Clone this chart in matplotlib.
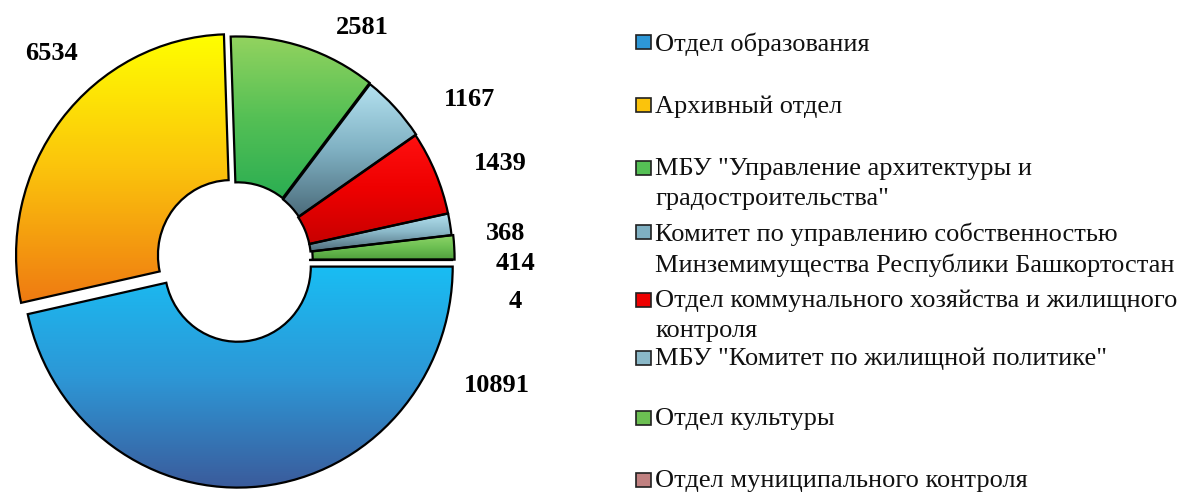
import numpy as np
import matplotlib
matplotlib.use("Agg")
import matplotlib.pyplot as plt
from matplotlib.colors import LinearSegmentedColormap
from matplotlib.patches import Rectangle

W, H = 1189, 493

departments = [
    'Отдел образования',
    'Архивный отдел',
    'МБУ "Управление архитектуры и\nградостроительства"',
    'Комитет по управлению собственностью\nМинземимущества Республики Башкортостан',
    'Отдел коммунального хозяйства и жилищного\nконтроля',
    'МБУ "Комитет по жилищной политике"',
    'Отдел культуры',
    'Отдел муниципального контроля',
]
counts = [10891, 6534, 2581, 1167, 1439, 368, 414, 4]

# gradient colours, top -> bottom
grads = [
    ('#19bdf3', '#2d97d6', '#3b5b9b'),
    ('#ffff00', '#fbc30c', '#ef7a12'),
    ('#93d35f', '#55c055', '#2bae52'),
    ('#b4e2f0', '#7fb0c2', '#4b6b7a'),
    ('#ff1010', '#ee0000', '#c80000'),
    ('#b4e2f0', '#8ab8c8', '#4e6c7a'),
    ('#8ed468', '#6cbf52', '#4f9e3c'),
    ('#e0a0a0', '#c08080', '#905858'),
]
explode = [0.03, 0.035, 0.012, 0.008, 0.004, 0.004, 0.012, 0.0]

# label positions in pixels (centre x, centre y from top)
label_pos = [(497, 386), (52, 53), (362, 27), (470, 99), (500, 164),
             (506, 234), (515, 263), (515, 302)]
legend_y = [42, 105, 168, 232, 300, 358, 418, 480]


def fx(x):
    return x / W


def fy(y):
    return 1 - y / H


fig = plt.figure(figsize=(W / 100, H / 100), dpi=100)

# pie is drawn a little taller than wide, like the source picture
cx, cy, Rx, Ry = 237, 260, 215, 221
lim = 1.15
ax = fig.add_axes([(cx - lim * Rx) / W, (H - cy - lim * Ry) / H,
                   2 * lim * Rx / W, 2 * lim * Ry / H])

wedges, _ = ax.pie(counts, startangle=0, counterclock=False, explode=explode,
                   colors=[g[1] for g in grads],
                   wedgeprops=dict(width=0.66, edgecolor='black', linewidth=1.6))

for w, g in zip(wedges, grads):
    ext = w.get_path().get_extents()
    cmap = LinearSegmentedColormap.from_list('g', list(g))
    grad = np.linspace(0, 1, 256).reshape(-1, 1)
    im = ax.imshow(grad, cmap=cmap, aspect='auto', origin='upper',
                   extent=[ext.x0, ext.x1, ext.y0, ext.y1], zorder=2,
                   interpolation='bilinear')
    im.set_clip_path(w)
    w.set_facecolor('none')
    w.set_zorder(3)

ax.set_aspect('auto')
ax.set_xlim(-lim, lim)
ax.set_ylim(-lim, lim)
ax.axis('off')

for v, (x, y) in zip(counts, label_pos):
    fig.text(fx(x), fy(y), str(v), ha='center', va='center',
             family='Liberation Serif', fontweight='bold', fontsize=19)

for name, g, y in zip(departments, grads, legend_y):
    fig.patches.append(Rectangle((fx(636), fy(y + 7)), 15 / W, 14 / H,
                                 transform=fig.transFigure, facecolor=g[1],
                                 edgecolor='#202020', linewidth=1.2))
    fig.text(fx(655), fy(y - 10), name, ha='left', va='top',
             family='Liberation Serif', fontsize=19, linespacing=1.45,
             color='#111111')

fig.savefig('out.png', dpi=100)
